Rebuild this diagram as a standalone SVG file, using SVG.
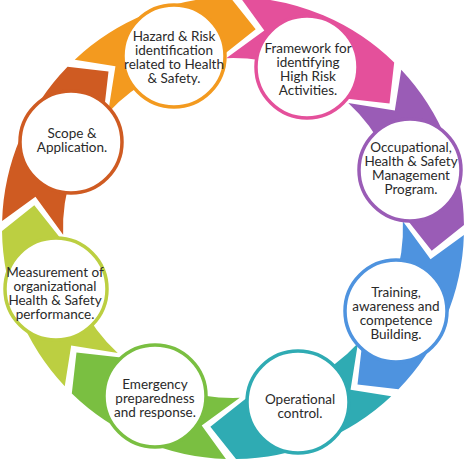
<svg xmlns="http://www.w3.org/2000/svg" xmlns:xlink="http://www.w3.org/1999/xlink" width="465" height="459" viewBox="0 0 465 459">
<style>
.node circle{fill:#fff;stroke-width:3.5}
.node text{font-family:Lato,"Open Sans","Liberation Sans",sans-serif;font-size:13.5px;fill:#2a2a2a;text-anchor:middle}
</style>
<defs>
<path id="seg" d="M229.15,-29.15 L200,0 L166.7,-33.3 A170,170 0 0 0 100.41,-137.17 L147.46,-135.12 L149.26,-176.3 A231,231 0 0 1 229.15,-29.15 Z"/>
</defs>
<rect width="465" height="459" fill="#fff"/>
<g id="connectors" transform="translate(233,228)">
<use xlink:href="#seg" href="#seg" fill="#F39A1F" transform="rotate(-83.5)"/>
<use xlink:href="#seg" href="#seg" fill="#E4509B" transform="rotate(-38.5)"/>
<use xlink:href="#seg" href="#seg" fill="#9A5CB6" transform="rotate(6.5)"/>
<use xlink:href="#seg" href="#seg" fill="#4E93DF" transform="rotate(51.5)"/>
<use xlink:href="#seg" href="#seg" fill="#2FABB3" transform="rotate(96.5)"/>
<use xlink:href="#seg" href="#seg" fill="#7ABF41" transform="rotate(141.5)"/>
<use xlink:href="#seg" href="#seg" fill="#BCCF41" transform="rotate(186.5)"/>
<use xlink:href="#seg" href="#seg" fill="#CF5B22" transform="rotate(231.5)"/>
</g>
<g id="hazard" class="node">
<circle cx="174" cy="56" r="51" stroke="#F39A1F"/>
<text x="174" y="40.5">Hazard &amp; Risk<tspan x="174" dy="14">identification</tspan><tspan x="174" dy="14">related to Health</tspan><tspan x="174" dy="14">&amp; Safety.</tspan></text>
</g>
<g id="framework" class="node">
<circle cx="307" cy="67" r="51" stroke="#E4509B"/>
<text x="308" y="53">Framework for<tspan x="308" dy="14">identifying</tspan><tspan x="308" dy="14">High Risk</tspan><tspan x="308" dy="14">Activities.</tspan></text>
</g>
<g id="occupational" class="node">
<circle cx="410" cy="170" r="51" stroke="#9A5CB6"/>
<text x="411" y="152">Occupational,<tspan x="411" dy="14">Health &amp; Safety</tspan><tspan x="411" dy="14">Management</tspan><tspan x="411" dy="14">Program.</tspan></text>
</g>
<g id="training" class="node">
<circle cx="396" cy="311" r="51" stroke="#4E93DF"/>
<text x="396" y="296.5">Training,<tspan x="396" dy="14">awareness and</tspan><tspan x="396" dy="14">competence</tspan><tspan x="396" dy="14">Building.</tspan></text>
</g>
<g id="operational" class="node">
<circle cx="298" cy="402" r="51" stroke="#2FABB3"/>
<text x="300" y="404">Operational<tspan x="300" dy="14">control.</tspan></text>
</g>
<g id="emergency" class="node">
<circle cx="155" cy="396" r="51" stroke="#7ABF41"/>
<text x="155" y="388.5">Emergency<tspan x="155" dy="14">preparedness</tspan><tspan x="155" dy="14">and response.</tspan></text>
</g>
<g id="measurement" class="node">
<circle cx="56" cy="289" r="51" stroke="#BCCF41"/>
<text x="55" y="276.5">Measurement of<tspan x="55" dy="14">organizational</tspan><tspan x="55" dy="14">Health &amp; Safety</tspan><tspan x="55" dy="14">performance.</tspan></text>
</g>
<g id="scope" class="node">
<circle cx="71" cy="142" r="51" stroke="#CF5B22"/>
<text x="72" y="137.5">Scope &amp;<tspan x="72" dy="14">Application.</tspan></text>
</g>
</svg>
